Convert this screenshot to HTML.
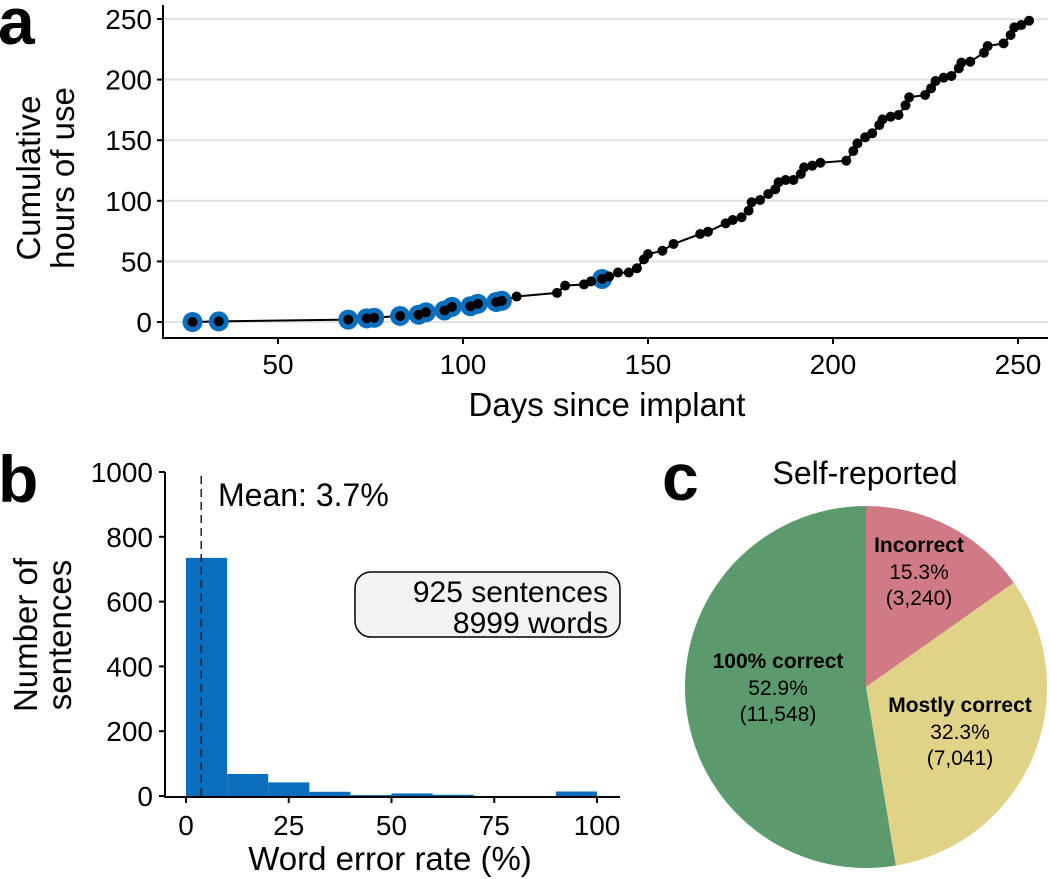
<!DOCTYPE html>
<html><head><meta charset="utf-8"><style>
html,body{margin:0;padding:0;background:#fff;}
svg{display:block;font-family:"Liberation Sans",sans-serif;}
</style></head><body>
<svg id="fig" width="1050" height="879" viewBox="0 0 1050 879" xmlns="http://www.w3.org/2000/svg">
<g id="pa"></g>
<g id="pb"></g>
<g id="pc"></g>
</svg>
<script>
// Panel a data
const aDays = [26.9,34,69,74,76,83,88,90,95,97,102,104,109,110.5,114.5,125.4,127.6,132.7,134.6,137.6,139.5,141.9,144.8,147,148.9,150,153.9,156.9,164.1,166.2,171,172.9,175.3,177.2,178,180.3,182.5,184.4,185.3,187.2,189.3,191.3,192.2,194.4,196.6,203.6,205.5,206.6,208.7,210.6,212.5,213.4,215.6,217.7,219.6,220.6,224.9,226.5,227.7,229.9,232,234,234.7,237.1,240.8,241.8,246.1,248,249,250.9,253];
const aHours = [0,0.5,2,3,3.5,5,6,8,9.5,12.5,13,15,16.5,17.5,21,24,30,31,33.5,35.5,37.5,40.8,40.8,44.3,51.7,56,58.8,64.4,72.6,74.5,81.4,84.2,86.4,91.9,98.8,100.7,105.6,109.5,115.3,117.2,117.2,122.1,127.6,129,131.4,133.1,141.1,147.4,152.4,155.7,162.5,167.2,169.4,170.8,178.8,185.4,187.3,192.8,198.8,201.6,203,209.3,214,214.8,222.2,227.7,229.9,236.8,243.1,245,248.6];
const aHighlighted = [1,1,1,1,1,1,1,1,1,1,1,1,1,1,0,0,0,0,0,1,0,0,0,0,0,0,0,0,0,0,0,0,0,0,0,0,0,0,0,0,0,0,0,0,0,0,0,0,0,0,0,0,0,0,0,0,0,0,0,0,0,0,0,0,0,0,0,0,0,0,0];
const aXTicks = [50,100,150,200,250];
const aYTicks = [0,50,100,150,200,250];
// Panel b data
const bBinStarts = [0,10,20,30,40,50,60,70,80,90];
const bCounts = [735,68,42,13,3,8,4,0,0,14];
const bXTicks = [0,25,50,75,100];
const bYTicks = [0,200,400,600,800,1000];
const bMean = 3.7;
// Panel c data
const cLabels = ["Incorrect","Mostly correct","100% correct"];
const cPercents = [15.3,32.3,52.9];
const cCounts = ["3,240","7,041","11,548"];

const NS="http://www.w3.org/2000/svg";
function mk(parent,tag,attrs,text){const e=document.createElementNS(NS,tag);for(const k in attrs)e.setAttribute(k,attrs[k]);if(text!==undefined)e.textContent=text;parent.appendChild(e);return e;}

// ---------- Panel a ----------
const pa=document.getElementById('pa');
const ax=d=>278+(d-50)*3.7, ay=h=>322-h*1.212;
for(const t of aYTicks){
  const g=mk(pa,'line',{x1:163,x2:1048,y1:ay(t),y2:ay(t),stroke:'#e3e3e3','stroke-width':2});
  
  
  const tk=mk(pa,'line',{x1:157,x2:163,y1:ay(t),y2:ay(t),stroke:'#000','stroke-width':2});
  
  
  const lb=mk(pa,'text',{x:152,y:ay(t)+10,'text-anchor':'end','font-size':28},String(t));
  
  
}
for(const t of aXTicks){
  const tk=mk(pa,'line',{x1:ax(t),x2:ax(t),y1:338,y2:344,stroke:'#000','stroke-width':2});
  
  
  const lb=mk(pa,'text',{x:ax(t),y:374,'text-anchor':'middle','font-size':28},String(t));
  
  
}
let sp=mk(pa,'path',{d:'M163 5 V338 H1048',fill:'none',stroke:'#000','stroke-width':2});


let pts=aDays.map((d,i)=>ax(d).toFixed(1)+','+ay(aHours[i]).toFixed(1)).join(' ');
let ln=mk(pa,'polyline',{points:pts,fill:'none',stroke:'#000','stroke-width':2});


aDays.forEach((d,i)=>{ if(aHighlighted[i]){
  const c=mk(pa,'circle',{cx:ax(d),cy:ay(aHours[i]),r:10,fill:'#0a6ebd'});
  
  
}});
aDays.forEach((d,i)=>{
  const c=mk(pa,'circle',{cx:ax(d),cy:ay(aHours[i]),r:5,fill:'#000'});
  
  
});
let t=mk(pa,'text',{x:607,y:416,'text-anchor':'middle','font-size':33},'Days since implant');


t=mk(pa,'text',{transform:'translate(40,178) rotate(-90)','text-anchor':'middle','font-size':33},'Cumulative');


t=mk(pa,'text',{transform:'translate(74,178) rotate(-90)','text-anchor':'middle','font-size':33},'hours of use');


t=mk(pa,'text',{x:-2,y:44,'font-size':66,'font-weight':'bold'},'a');



// ---------- Panel b ----------
const pb=document.getElementById('pb');
const bx=v=>186+v*4.11, by=v=>796-v*0.324;
bBinStarts.forEach((s,i)=>{ if(bCounts[i]>0){
  const r=mk(pb,'rect',{x:bx(s),y:by(bCounts[i]),width:bx(s+10)-bx(s),height:by(0)-by(bCounts[i]),fill:'#0a6ebd'});
  
  
}});
for(const v of bYTicks){
  const tk=mk(pb,'line',{x1:159,x2:165,y1:by(v),y2:by(v),stroke:'#000','stroke-width':2});
  
  
  const lb=mk(pb,'text',{x:153,y:by(v)+10,'text-anchor':'end','font-size':28},String(v));
  
  
}
for(const v of bXTicks){
  const tk=mk(pb,'line',{x1:bx(v),x2:bx(v),y1:797,y2:803,stroke:'#000','stroke-width':2});
  
  
  const lb=mk(pb,'text',{x:bx(v),y:835,'text-anchor':'middle','font-size':28},String(v));
  
  
}
sp=mk(pb,'path',{d:'M165 472 V797 H620',fill:'none',stroke:'#000','stroke-width':2});


let ml=mk(pb,'line',{x1:bx(bMean),x2:bx(bMean),y1:476,y2:796,stroke:'#222','stroke-width':1.5,'stroke-dasharray':'8,5'});


t=mk(pb,'text',{x:218,y:506,'font-size':32},'Mean: 3.7%');


let bx2=mk(pb,'rect',{x:355,y:572,width:265,height:65,rx:16,fill:'#f2f2f2',stroke:'#000','stroke-width':1.5});


t=mk(pb,'text',{x:608,y:602,'text-anchor':'end','font-size':30},'925 sentences');


t=mk(pb,'text',{x:608,y:633,'text-anchor':'end','font-size':30},'8999 words');


t=mk(pb,'text',{x:390,y:870,'text-anchor':'middle','font-size':33},'Word error rate (%)');


t=mk(pb,'text',{transform:'translate(37,635) rotate(-90)','text-anchor':'middle','font-size':33},'Number of');


t=mk(pb,'text',{transform:'translate(71,635) rotate(-90)','text-anchor':'middle','font-size':33},'sentences');


t=mk(pb,'text',{x:-2,y:502,'font-size':66,'font-weight':'bold'},'b');



// ---------- Panel c ----------
const pc=document.getElementById('pc');
const cx=866, cy=687, R=181;
const cColors=['#d07a86','#e0d287','#5b9a6c'];
const cLabelPos=[[919,552],[960,712],[778,668]];
let acc=0; const total=cPercents.reduce((a,b)=>a+b,0);
cPercents.forEach((p,i)=>{
  const a0=acc/total*2*Math.PI; acc+=p; const a1=acc/total*2*Math.PI;
  const x0=cx+R*Math.sin(a0), y0=cy-R*Math.cos(a0), x1=cx+R*Math.sin(a1), y1=cy-R*Math.cos(a1);
  const large=(a1-a0)>Math.PI?1:0;
  const s=mk(pc,'path',{d:`M${cx} ${cy} L${x0} ${y0} A${R} ${R} 0 ${large} 1 ${x1} ${y1} Z`,fill:cColors[i]});
  
  
  const [lx,ly]=cLabelPos[i];
  const l1=mk(pc,'text',{x:lx,y:ly,'text-anchor':'middle','font-size':21,'font-weight':'bold'},cLabels[i]);
  
  
  const l2=mk(pc,'text',{x:lx,y:ly+27,'text-anchor':'middle','font-size':21},p.toFixed(1)+'%');
  
  
  const l3=mk(pc,'text',{x:lx,y:ly+53,'text-anchor':'middle','font-size':21},'('+cCounts[i]+')');
  
  
});
t=mk(pc,'text',{x:865,y:484,'text-anchor':'middle','font-size':32},'Self-reported');


t=mk(pc,'text',{x:662,y:500,'font-size':66,'font-weight':'bold'},'c');


</script>
</body></html>
